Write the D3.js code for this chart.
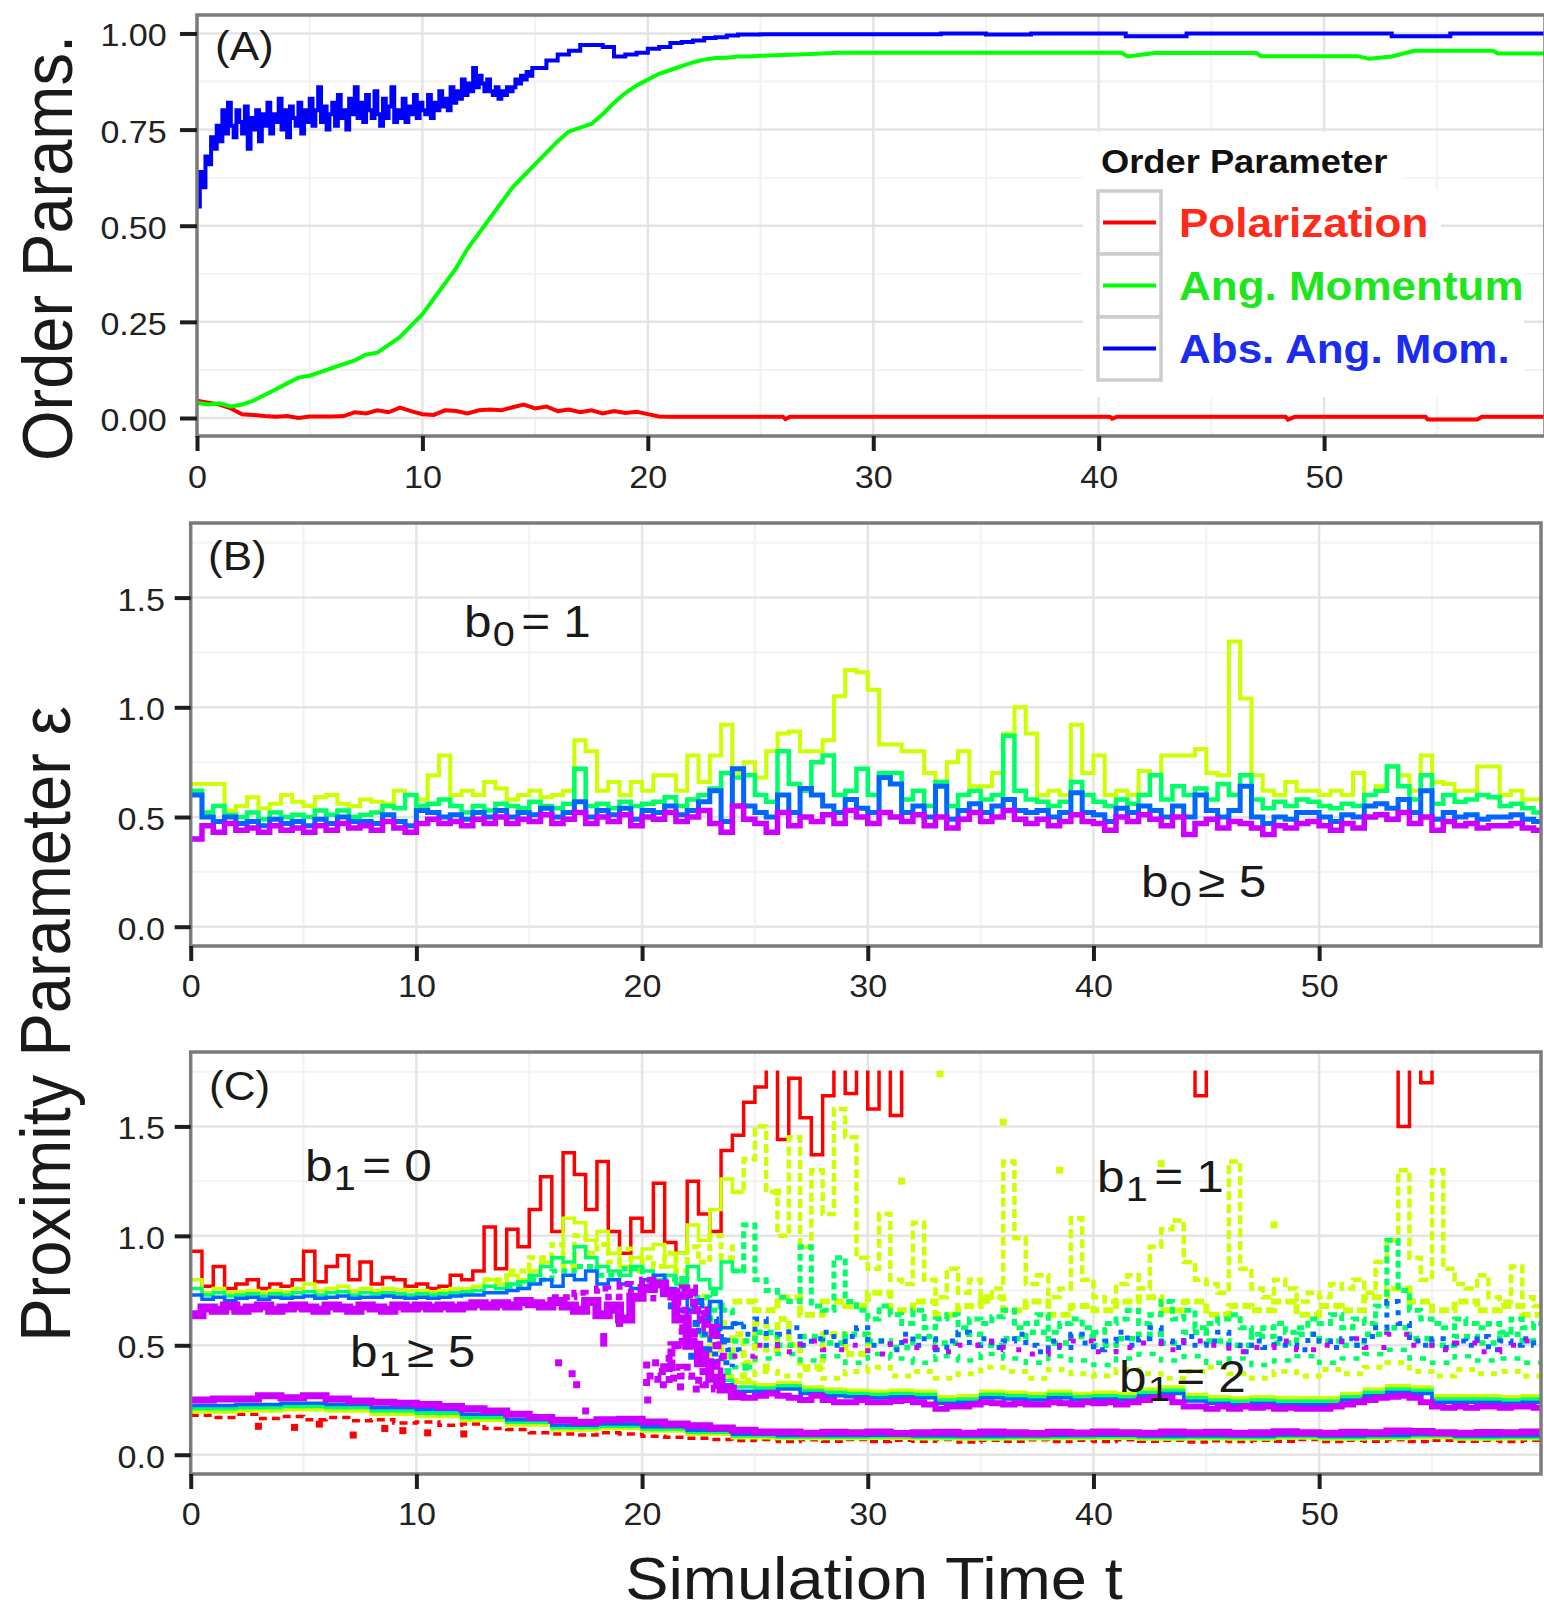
<!DOCTYPE html>
<html><head><meta charset="utf-8">
<script src="https://cdn.jsdelivr.net/npm/d3@7"></script>
<style>html,body{margin:0;padding:0;background:#fff;}svg{display:block;}</style>
</head><body><svg id="c" width="1544" height="1614"></svg>
<script>
// ================= DATA =================
const xTicks = [0,10,20,30,40,50];
const xMinor = [5,15,25,35,45,55];
const yTicksA = [0,0.25,0.5,0.75,1];
const yMinorA = [0.125,0.375,0.625,0.875];
const yTicksBC = [0,0.5,1,1.5];
const yMinorBC = [0.25,0.75,1.25,1.75];
const orderNames = ["Polarization","Ang. Momentum","Abs. Ang. Mom."];
const orderColors = ["#ff0000","#00ff00","#0000ff"];
const orderTextColors = ["#ff2a1a","#1ee61e","#1a2cf0"];
// rainbow(5): red, yellow-green, green, blue, purple
const bettiColors = ["#ff0000","#ccff00","#00ff66","#0066ff","#cc00ff"];

// ---- Panel A (order parameters) ----
const polV = [0.045,0.04,0.035,0.025,0.01,0.008,0.005,0.003,0.005,0.0,0.004,0.004,0.004,0.005,0.015,0.012,0.02,0.015,0.027,0.018,0.01,0.008,0.02,0.018,0.012,0.02,0.022,0.02,0.028,0.035,0.025,0.03,0.018,0.022,0.015,0.02,0.012,0.018,0.013,0.016,0.01,0.004,0.003]; // t=0..21 step .5
const polLate = [[26,0.003],[26.1,-0.003],[26.3,0.003],[40.5,0.003],[40.6,-0.002],[40.8,0.003],[48.3,0.003],[48.4,-0.004],[48.7,0.003],[54.5,0.003],[54.6,-0.004],[56.8,-0.004],[57,0.003],[60,0.003]];
const angMomV = [0.04,0.035,0.038,0.03,0.035,0.045,0.06,0.075,0.09,0.105,0.11,0.12,0.13,0.14,0.15,0.165,0.17,0.19,0.21,0.24,0.27,0.31,0.35,0.39,0.44,0.48,0.52,0.56,0.60,0.63,0.66,0.69,0.72,0.745,0.755,0.765,0.79,0.82,0.845,0.865,0.88,0.895,0.905,0.915,0.925,0.932,0.936,0.937,0.94]; // t=0..24 step .5
const angMomLate = [[25,0.942],[26,0.944],[27,0.946],[28.5,0.95],[41,0.95],[41.3,0.94],[42.5,0.949],[47,0.949],[47.2,0.941],[51.5,0.941],[52,0.934],[53,0.94],[54,0.955],[57.5,0.955],[57.7,0.948],[60,0.948]];
const absAngFine = [0.55,0.64,0.60,0.68,0.66,0.73,0.70,0.76,
 0.72,0.80,0.74,0.82,0.76,0.73,0.80,0.77,
 0.74,0.81,0.70,0.78,0.75,0.80,0.72,0.79,
 0.76,0.82,0.74,0.79,0.77,0.83,0.75,0.80,
 0.73,0.81,0.78,0.76,0.82,0.74,0.80,0.77,
 0.83,0.76,0.80,0.86,0.77,0.81,0.75,0.79,
 0.82,0.76,0.84,0.78,0.80,0.75,0.83,0.79,
 0.86,0.78,0.82,0.77,0.84,0.80,0.78,0.85,
 0.79,0.76,0.83,0.78,0.81,0.86,0.77,0.80,
 0.78,0.83,0.77,0.81,0.79,0.84,0.78,0.82,
 0.80,0.79,0.84,0.78,0.82,0.80,0.85,0.81,
 0.83,0.80,0.86,0.82,0.85,0.83,0.88,0.84,
 0.87,0.85,0.91,0.86,0.89,0.87,0.85,0.88,
 0.85,0.84,0.86,0.83,0.85,0.84,0.86,0.85,
 0.86,0.88,0.87,0.89,0.88,0.90,0.89,0.91]; // t=0..14.875 step .125
const absAngMid = [0.91,0.93,0.945,0.955,0.97,0.97,0.965,0.94,0.945,0.95,0.96,0.965,0.975,0.978,0.982,0.988,0.99,0.995,0.997]; // t=15..24 step .5
const absAngLate = [[25,0.998],[33,1.0],[35,0.997],[37,1.0],[41.2,0.993],[43.9,1.0],[53,0.993],[55.6,1.0],[60,1.0]];

// ---- Panel B (b0 contours), t = 0..59.5 step .5 ----
const bYellow = [0.65,0.65,0.65,0.53,0.55,0.59,0.54,0.56,0.60,0.57,0.55,0.59,0.60,0.56,0.55,0.58,0.57,0.56,0.62,0.60,
 0.58,0.69,0.78,0.60,0.62,0.60,0.66,0.63,0.58,0.60,0.62,0.59,0.60,0.62,0.85,0.80,0.62,0.66,0.60,0.66,
 0.62,0.69,0.69,0.62,0.78,0.66,0.78,0.92,0.70,0.75,0.68,0.80,0.88,0.89,0.80,0.80,0.85,1.05,1.17,1.16,
 1.08,0.83,0.83,0.80,0.80,0.70,0.66,0.75,0.80,0.64,0.64,0.70,0.88,1.00,0.88,0.60,0.62,0.60,0.92,0.70,
 0.78,0.60,0.62,0.60,0.71,0.69,0.78,0.78,0.78,0.81,0.70,0.69,1.30,1.04,0.69,0.62,0.60,0.66,0.62,0.62,
 0.60,0.62,0.60,0.70,0.60,0.64,0.73,0.69,0.62,0.78,0.66,0.65,0.62,0.62,0.73,0.73,0.60,0.62,0.58,0.58];
const bGreen = [0.62,0.52,0.55,0.51,0.50,0.52,0.49,0.52,0.50,0.51,0.50,0.53,0.51,0.53,0.50,0.51,0.52,0.55,0.54,0.60,
 0.55,0.56,0.58,0.55,0.52,0.55,0.53,0.56,0.55,0.54,0.57,0.55,0.54,0.56,0.72,0.55,0.56,0.54,0.57,0.55,
 0.56,0.57,0.59,0.55,0.58,0.60,0.63,0.70,0.68,0.69,0.60,0.57,0.80,0.65,0.62,0.75,0.78,0.60,0.62,0.72,
 0.60,0.70,0.70,0.58,0.62,0.55,0.66,0.55,0.60,0.62,0.58,0.60,0.87,0.62,0.58,0.57,0.55,0.57,0.66,0.60,
 0.57,0.55,0.58,0.56,0.60,0.69,0.58,0.64,0.60,0.63,0.58,0.65,0.60,0.69,0.58,0.54,0.57,0.55,0.58,0.57,
 0.55,0.54,0.56,0.55,0.60,0.62,0.73,0.64,0.58,0.69,0.56,0.60,0.57,0.58,0.60,0.59,0.55,0.56,0.54,0.52];
const bBlue = [0.60,0.50,0.48,0.50,0.47,0.48,0.46,0.49,0.47,0.48,0.46,0.49,0.47,0.50,0.48,0.48,0.47,0.51,0.48,0.46,
 0.53,0.52,0.50,0.51,0.49,0.52,0.50,0.53,0.50,0.52,0.51,0.54,0.50,0.52,0.57,0.50,0.53,0.51,0.54,0.49,
 0.53,0.52,0.55,0.51,0.53,0.57,0.62,0.48,0.72,0.55,0.52,0.50,0.60,0.52,0.63,0.60,0.55,0.52,0.58,0.54,
 0.52,0.68,0.65,0.52,0.55,0.50,0.64,0.49,0.53,0.56,0.52,0.55,0.58,0.53,0.52,0.53,0.50,0.52,0.61,0.52,
 0.51,0.48,0.54,0.52,0.55,0.53,0.50,0.55,0.50,0.60,0.53,0.50,0.53,0.64,0.50,0.47,0.50,0.49,0.52,0.52,
 0.50,0.48,0.51,0.50,0.55,0.56,0.54,0.58,0.52,0.62,0.49,0.52,0.50,0.51,0.49,0.50,0.50,0.51,0.49,0.48];
const bPurple = [0.40,0.46,0.43,0.47,0.44,0.45,0.43,0.46,0.44,0.45,0.43,0.46,0.44,0.47,0.45,0.46,0.44,0.48,0.45,0.43,
 0.47,0.49,0.47,0.48,0.46,0.49,0.47,0.50,0.47,0.49,0.48,0.51,0.47,0.49,0.52,0.47,0.50,0.48,0.51,0.46,
 0.50,0.49,0.52,0.48,0.50,0.53,0.47,0.43,0.55,0.49,0.47,0.43,0.52,0.46,0.50,0.48,0.51,0.47,0.53,0.50,
 0.47,0.52,0.50,0.48,0.51,0.46,0.50,0.45,0.49,0.52,0.48,0.50,0.53,0.49,0.47,0.49,0.46,0.48,0.51,0.48,
 0.47,0.44,0.50,0.48,0.51,0.49,0.46,0.50,0.42,0.47,0.49,0.45,0.48,0.47,0.45,0.42,0.46,0.45,0.47,0.48,
 0.46,0.44,0.47,0.45,0.50,0.51,0.49,0.52,0.47,0.50,0.44,0.48,0.46,0.47,0.45,0.46,0.46,0.47,0.45,0.44];

// ---- Panel C (b1 contours) ----
const cRedTop = [0.93,0.77,0.86,0.76,0.78,0.80,0.76,0.78,0.77,0.80,0.93,0.79,0.86,0.91,0.80,0.88,0.78,0.81,0.80,0.77,
 0.78,0.76,0.77,0.82,0.80,0.84,1.04,0.85,1.03,0.95,1.12,1.27,1.02,1.38,1.28,1.12,1.34,1.02,0.92,1.08,
 1.02,1.24,0.97,0.92,1.25,1.10,1.02,1.39,1.46,1.61,1.68,1.80,1.44,1.72,1.54,1.37,1.64,1.80,1.65,1.80,
 1.58,1.80,1.55,1.80,1.80,1.80,1.80,1.80,1.80,1.80,1.80,1.80,1.80,1.80,1.80,1.80,1.80,1.80,1.80,1.80,
 1.80,1.80,1.80,1.80,1.80,1.80,1.80,1.80,1.80,1.64,1.80,1.80,1.80,1.80,1.80,1.80,1.80,1.80,1.80,1.80,
 1.80,1.80,1.80,1.80,1.80,1.80,1.80,1.50,1.80,1.70,1.80,1.80,1.80,1.80,1.80,1.80,1.80,1.80,1.80,1.80];
const cYellowUp = [0.80,0.74,0.76,0.74,0.745,0.75,0.74,0.75,0.745,0.76,0.78,0.75,0.76,0.77,0.75,0.76,0.75,0.76,0.755,0.75,
 0.75,0.745,0.75,0.76,0.76,0.77,0.80,0.78,0.82,0.80,0.84,0.88,0.90,1.08,1.06,0.98,1.02,0.92,0.86,0.90,
 0.94,0.96,0.86,0.92,1.05,0.98,1.12,1.26,1.20];
const cGreenUp = [0.76,0.73,0.74,0.725,0.73,0.735,0.725,0.735,0.73,0.74,0.745,0.73,0.74,0.745,0.73,0.74,0.735,0.74,0.735,0.73,
 0.735,0.73,0.735,0.74,0.745,0.75,0.77,0.76,0.78,0.79,0.82,0.86,0.90,0.88,0.95,0.90,0.86,0.84,0.82,0.86,
 0.84,0.80,0.82,0.78,0.86,0.80,0.76,0.88,0.84];
const cBlueUp = [0.73,0.71,0.72,0.705,0.715,0.72,0.71,0.72,0.715,0.72,0.725,0.715,0.72,0.725,0.715,0.72,0.72,0.725,0.72,0.715,
 0.72,0.715,0.72,0.725,0.73,0.73,0.74,0.74,0.75,0.76,0.78,0.80,0.77,0.82,0.80,0.84,0.78,0.80,0.78,0.76,
 0.80,0.82,0.76,0.72,0.66,0.62,0.70,0.58,0.60];
const cPurpleUp = [0.64,0.67,0.66,0.68,0.66,0.67,0.68,0.66,0.67,0.68,0.67,0.66,0.68,0.67,0.66,0.68,0.67,0.66,0.68,0.67,
 0.68,0.67,0.68,0.67,0.68,0.69,0.68,0.69,0.68,0.70,0.69,0.68,0.70,0.68,0.66,0.70,0.64,0.68,0.62,0.72,
 0.76,0.78,0.74,0.62,0.50,0.42,0.35,0.30,0.27];
// transition region t 13..24
const cYellowMidEarly = [[13,0.80],[14,0.84],[15,0.90],[16,0.96],[16.5,0.86],[17,1.00],[17.5,0.92],[18,0.96],[18.5,0.88],[19,0.94],[19.5,0.84],[20,0.90],[20.5,0.86],[21,0.92],[21.5,0.84],[22,0.95],[22.5,0.88],[23,1.00],[23.5,0.90],[24,0.96]];
const cYellowTrans = [[22.5,0.62],[23,0.50],[23.5,0.45],[24,0.55],[24.5,0.42],[25,0.60],[25.5,0.48],[26,0.62],[26.5,0.50],[27,0.40],[28,0.55],[29,0.46],[30,0.58]];
const cGreenMidEarly = [[14,0.77],[15,0.80],[16,0.84],[17,0.86],[18,0.82],[19,0.85],[20,0.78],[21,0.80],[22,0.72],[23,0.66],[24,0.62]];
const cBlueTrans1 = [[21.5,0.66],[22,0.60],[22.5,0.55],[23,0.46],[23.5,0.42],[24,0.40]];
const cBlueTrans2 = [[21.8,0.74],[22.3,0.68],[22.8,0.62],[23.3,0.54],[23.8,0.48],[24.3,0.46]];
const cPurpleBroad = [[16,0.72],[17,0.74],[17.5,0.70],[18,0.76],[18.5,0.72],[19,0.78],[19.5,0.74],[20,0.80],[20.5,0.70]];
const cPurpleBlockA = [[20.8,0.74],[21.3,0.70],[21.8,0.76],[22.3,0.66],[22.8,0.58],[23.3,0.50],[23.6,0.50]];
const cPurpleBlockB = [[20.8,0.40],[21.3,0.50],[21.8,0.56],[22.3,0.48],[22.8,0.42],[23.3,0.38],[23.6,0.38]];
const cPurpleBlockC = [[20.2,0.36],[20.7,0.32],[21.2,0.40],[21.7,0.36],[22.2,0.34],[22.7,0.32],[23.2,0.30],[23.6,0.30]];
const cPurpleB2 = [0.27,0.26,0.27,0.28,0.27,0.26,0.25,0.27,0.25,0.24,0.24,0.25,0.24,0.24,0.245,0.25,0.24,0.23,0.21,0.22,
 0.22,0.23,0.24,0.235,0.23,0.235,0.23,0.23,0.24,0.235,0.23,0.24,0.235,0.24,0.23,0.24,0.25,0.26,0.26,0.24,
 0.22,0.22,0.21,0.22,0.21,0.22,0.215,0.22,0.21,0.215,0.21,0.21,0.21,0.22,0.23,0.24,0.25,0.26,0.265,0.27,
 0.26,0.24,0.22,0.215,0.22,0.215,0.22,0.22,0.215,0.22,0.22,0.215];
const cBlueB2 = [[23.5,0.32],[24,0.29],[25,0.29],[26,0.30],[27,0.28],[28,0.27],[29,0.265],[30,0.26],[31,0.265],[32,0.26],[33,0.235],[34,0.24],[35,0.26],[36,0.255],[37,0.25],[38,0.26],[39,0.25],[40,0.255],[41,0.25],[42,0.27],[43,0.28],[44,0.245],[45,0.235],[46,0.23],[47,0.235],[48,0.23],[49,0.23],[50,0.23],[51,0.25],[52,0.27],[53,0.285],[54,0.28],[55,0.24],[56,0.24],[57,0.24],[58,0.235],[59,0.24],[60,0.24]];
const cGreenB2 = [[23.5,0.34],[24,0.31],[25,0.305],[26,0.315],[27,0.295],[28,0.285],[29,0.28],[30,0.275],[31,0.28],[32,0.275],[33,0.25],[34,0.255],[35,0.275],[36,0.27],[37,0.265],[38,0.275],[39,0.265],[40,0.27],[41,0.265],[42,0.285],[43,0.295],[44,0.26],[45,0.25],[46,0.245],[47,0.25],[48,0.245],[49,0.245],[50,0.245],[51,0.265],[52,0.285],[53,0.30],[54,0.295],[55,0.255],[56,0.255],[57,0.255],[58,0.25],[59,0.255],[60,0.255]];
const cYellowB2 = [[23.5,0.36],[24,0.33],[25,0.32],[26,0.33],[27,0.31],[28,0.30],[29,0.295],[30,0.29],[31,0.295],[32,0.29],[33,0.265],[34,0.27],[35,0.29],[36,0.285],[37,0.28],[38,0.29],[39,0.28],[40,0.285],[41,0.28],[42,0.30],[43,0.31],[44,0.275],[45,0.265],[46,0.26],[47,0.265],[48,0.26],[49,0.26],[50,0.26],[51,0.28],[52,0.30],[53,0.315],[54,0.31],[55,0.27],[56,0.27],[57,0.27],[58,0.265],[59,0.27],[60,0.27]];
const cYellowCloud = [1.20,1.35,1.50,1.20,1.00,1.45,0.95,1.30,1.10,1.58,1.45,0.90,0.85,1.10,0.80,0.78,1.06,0.80,0.72,0.85,
 0.74,0.80,0.70,0.76,1.34,0.99,0.78,0.82,0.72,0.76,1.08,0.80,0.72,0.70,0.78,0.82,0.76,0.95,1.03,1.07,
 0.88,0.80,0.78,0.74,1.34,0.85,0.76,0.72,0.80,0.76,0.70,0.74,0.72,0.78,0.76,0.80,0.74,0.88,0.98,1.30,
 0.90,0.80,1.30,0.85,0.78,0.76,0.82,0.72,0.70,0.86,0.72,0.68];
const cYellowCloudMid = [[24,0.70],[25,0.66],[26,0.72],[27,0.64],[28,0.70],[29,0.68],[30,0.74],[31,0.66],[32,0.70],[33,0.64],[34,0.68],[35,0.72],[36,0.66],[37,0.70],[38,0.64],[39,0.68],[40,0.66],[41,0.70],[42,0.72],[43,0.66],[44,0.70],[45,0.64],[46,0.68],[47,0.66],[48,0.70],[49,0.64],[50,0.68],[51,0.66],[52,0.72],[53,0.76],[54,0.70],[55,0.66],[56,0.70],[57,0.66],[58,0.68],[59,0.64],[60,0.66]];
const cGreenCloud = [0.84,1.05,0.80,0.75,0.72,0.70,0.95,0.68,0.66,0.90,0.70,0.66,0.62,0.68,0.64,0.60,0.66,0.58,0.62,0.64,
 0.58,0.62,0.60,0.63,0.66,0.58,0.60,0.64,0.56,0.60,0.62,0.58,0.56,0.60,0.62,0.66,0.60,0.64,0.70,0.62,
 0.66,0.58,0.60,0.62,0.64,0.58,0.55,0.58,0.60,0.56,0.58,0.62,0.60,0.64,0.58,0.62,0.60,0.68,0.98,0.75,
 0.66,0.62,0.60,0.58,0.62,0.60,0.58,0.60,0.56,0.62,0.58,0.60];
const cGreenCloudMid = [[24,0.52],[25,0.56],[26,0.50],[27,0.54],[28,0.51],[29,0.55],[30,0.52],[31,0.49],[32,0.54],[33,0.51],[34,0.55],[35,0.50],[36,0.53],[37,0.56],[38,0.51],[39,0.54],[40,0.50],[41,0.53],[42,0.55],[43,0.51],[44,0.56],[45,0.52],[46,0.50],[47,0.54],[48,0.51],[49,0.55],[50,0.52],[51,0.50],[52,0.55],[53,0.58],[54,0.53],[55,0.50],[56,0.54],[57,0.51],[58,0.55],[59,0.52],[60,0.53]];
const cBlueCloud = [0.60,0.55,0.62,0.50,0.55,0.58,0.50,0.53,0.56,0.50,0.54,0.58,0.50,0.52,0.48,0.55,0.50,0.53,0.48,0.52,
 0.56,0.50,0.53,0.49,0.52,0.55,0.50,0.47,0.52,0.49,0.55,0.51,0.48,0.52,0.56,0.50,0.53,0.58,0.52,0.49,
 0.54,0.50,0.52,0.56,0.50,0.47,0.52,0.49,0.53,0.50,0.48,0.55,0.52,0.49,0.53,0.50,0.54,0.58,0.70,0.60,
 0.52,0.50,0.53,0.49,0.52,0.50,0.54,0.48,0.52,0.50,0.53,0.50];
const cPurpleCloud = [[24,0.45],[25,0.50],[26,0.47],[27,0.52],[28,0.48],[29,0.50],[30,0.46],[31,0.52],[32,0.49],[33,0.47],[34,0.50],[35,0.52],[36,0.48],[37,0.46],[38,0.50],[39,0.52],[40,0.47],[41,0.49],[42,0.51],[43,0.48],[44,0.52],[45,0.50],[46,0.47],[47,0.49],[48,0.52],[49,0.48],[50,0.50],[51,0.53],[52,0.49],[53,0.55],[54,0.50],[55,0.48],[56,0.51],[57,0.47],[58,0.50],[59,0.52],[60,0.50]];
const cGreenCloudLow = [[24,0.40],[25,0.44],[26,0.46],[27,0.43],[28,0.45],[29,0.42],[30,0.46],[31,0.44],[32,0.42],[33,0.45],[34,0.43],[35,0.46],[36,0.44],[37,0.42],[38,0.45],[39,0.43],[40,0.41],[41,0.44],[42,0.46],[43,0.43],[44,0.45],[45,0.42],[46,0.44],[47,0.41],[48,0.43],[49,0.45],[50,0.42],[51,0.44],[52,0.46],[53,0.48],[54,0.44],[55,0.42],[56,0.45],[57,0.43],[58,0.44],[59,0.42],[60,0.44]];
const cYellowCloudLow = [[24,0.34],[25,0.38],[26,0.36],[27,0.39],[28,0.35],[29,0.38],[30,0.40],[31,0.36],[32,0.38],[33,0.35],[34,0.37],[35,0.40],[36,0.38],[37,0.35],[38,0.39],[39,0.37],[40,0.36],[41,0.39],[42,0.37],[43,0.35],[44,0.38],[45,0.40],[46,0.37],[47,0.35],[48,0.38],[49,0.36],[50,0.39],[51,0.37],[52,0.40],[53,0.42],[54,0.38],[55,0.36],[56,0.39],[57,0.37],[58,0.38],[59,0.36],[60,0.38]];
const cPurpleLow = [[0,0.25],[1,0.255],[2,0.255],[3,0.27],[4,0.26],[5,0.27],[6,0.255],[7,0.245],[8,0.24],[9,0.235],[10,0.23],[11,0.22],[12,0.21],[13,0.20],[14,0.185],[15,0.17],[16,0.158],[17,0.148],[18,0.16],[19,0.162],[20,0.15],[21,0.14],[22,0.132],[23,0.122],[24,0.112],[25,0.104],[26,0.104],[27,0.098],[28,0.103],[29,0.10],[30,0.104],[31,0.097],[32,0.101],[33,0.103],[34,0.098],[35,0.104],[36,0.10],[37,0.097],[38,0.103],[39,0.099],[40,0.104],[41,0.10],[42,0.098],[43,0.104],[44,0.10],[45,0.103],[46,0.098],[47,0.101],[48,0.105],[49,0.10],[50,0.098],[51,0.103],[52,0.101],[53,0.108],[54,0.106],[55,0.10],[56,0.098],[57,0.102],[58,0.10],[59,0.104],[60,0.10]];
const cBlueLow = [[0,0.225],[2,0.23],[4,0.235],[6,0.23],[8,0.215],[10,0.205],[12,0.185],[14,0.16],[16,0.135],[18,0.14],[20,0.128],[22,0.112],[24,0.094],[26,0.088],[28,0.088],[30,0.089],[32,0.087],[34,0.086],[36,0.087],[38,0.088],[40,0.089],[42,0.086],[44,0.087],[46,0.086],[48,0.09],[50,0.086],[52,0.088],[54,0.093],[56,0.086],[58,0.087],[60,0.087]];
const cGreenLow = [[0,0.21],[2,0.215],[4,0.22],[6,0.215],[8,0.20],[10,0.19],[12,0.17],[14,0.148],[16,0.124],[18,0.13],[20,0.118],[22,0.103],[24,0.086],[26,0.081],[28,0.081],[30,0.082],[32,0.08],[34,0.079],[36,0.08],[38,0.081],[40,0.082],[42,0.079],[44,0.08],[46,0.079],[48,0.083],[50,0.079],[52,0.081],[54,0.086],[56,0.079],[58,0.08],[60,0.08]];
const cYellowLow = [[0,0.195],[2,0.20],[4,0.205],[6,0.20],[8,0.185],[10,0.175],[12,0.156],[14,0.136],[16,0.113],[18,0.12],[20,0.108],[22,0.094],[24,0.078],[26,0.074],[28,0.074],[30,0.075],[32,0.073],[34,0.072],[36,0.073],[38,0.074],[40,0.075],[42,0.072],[44,0.073],[46,0.072],[48,0.076],[50,0.072],[52,0.074],[54,0.079],[56,0.072],[58,0.073],[60,0.073]];
const cRedLow = [[0,0.18],[1,0.17],[2,0.185],[3,0.165],[4,0.175],[5,0.16],[6,0.17],[7,0.155],[8,0.16],[9,0.145],[10,0.15],[11,0.135],[12,0.14],[13,0.12],[14,0.115],[15,0.10],[16,0.095],[17,0.09],[18,0.10],[19,0.095],[20,0.085],[21,0.08],[22,0.075],[23,0.07],[24,0.065],[25,0.07],[26,0.06],[27,0.068],[28,0.062],[29,0.07],[30,0.06],[31,0.066],[32,0.062],[33,0.07],[34,0.058],[35,0.066],[36,0.062],[37,0.068],[38,0.06],[39,0.066],[40,0.06],[41,0.068],[42,0.062],[43,0.066],[44,0.058],[45,0.064],[46,0.06],[47,0.066],[48,0.062],[49,0.07],[50,0.06],[51,0.066],[52,0.062],[53,0.068],[54,0.06],[55,0.066],[56,0.062],[57,0.066],[58,0.06],[59,0.066],[60,0.062]];
const cRedTiles = [[3.0,0.13],[4.6,0.125],[5.7,0.14],[7.2,0.09],[8.6,0.12],[9.4,0.11],[10.5,0.10],[12.1,0.095]];
const cYellowTiles = [[23.0,0.46],[23.4,0.33],[24.5,0.36],[25.5,0.40],[33.2,1.74],[36.0,1.52],[26.0,1.20],[31.5,1.25],[38.5,1.30],[48,1.05],[43.0,1.33],[22.4,0.56],[22.8,0.72],[23.6,0.60]];
const cGreenTiles = [[22.2,0.66],[23.0,0.62],[23.5,0.68],[24.0,0.45],[23.8,0.38],[22.7,0.55],[24.6,0.40],[22.5,0.48],[23.2,0.74],[21.8,0.80]];
const cBlueTiles = [[21.6,0.62],[22.0,0.55],[22.4,0.60],[22.8,0.48],[23.2,0.42],[23.6,0.52],[22.6,0.70],[21.9,0.76],[23.0,0.36],[22.2,0.45],[23.4,0.58],[21.3,0.68]];
const cPurpleTiles = [[16.3,0.42],[16.9,0.37],[17.1,0.32],[17.5,0.20],[18.3,0.54],[18.3,0.51],[20.2,0.41],[20.2,0.33],[20.25,0.25],[20.6,0.42],[20.9,0.38],[21.2,0.44],[21.4,0.35],[21.6,0.50],[21.8,0.58],[21.9,0.66],[22.1,0.73],[22.3,0.52],[22.5,0.45],[22.7,0.38],[22.9,0.60],[23.1,0.55],[23.3,0.33],[22.0,0.40],[21.7,0.31],[19.4,0.62],[19.0,0.60],[18.8,0.66],[22.4,0.30],[23.6,0.45],[22.6,0.62],[21.5,0.70],[21.0,0.74]];

// ================= DRAWING =================
const FONT = '"Liberation Sans", Arial, Helvetica, sans-serif';
const svg = d3.select('#c');
svg.append('rect').attr('width',1544).attr('height',1614).attr('fill','#fff');
const defs = svg.append('defs');

function stepPairs(t0, dt, vals){
  const out = vals.map((v,i)=>[t0+i*dt, v]);
  out.push([t0+vals.length*dt, vals[vals.length-1]]);
  return out;
}

function makePanel(id, p){
  const x = d3.scaleLinear().domain(p.xdom).range([p.left, p.right]);
  const y = d3.scaleLinear().domain(p.ydom).range([p.bottom, p.top]);
  defs.append('clipPath').attr('id', id).append('rect')
    .attr('x',p.left).attr('y',p.top).attr('width',p.right-p.left).attr('height',p.bottom-p.top);
  const grid = svg.append('g').attr('clip-path',`url(#${id})`);
  p.yMinor.forEach(v=>grid.append('line').attr('x1',p.left).attr('x2',p.right).attr('y1',y(v)).attr('y2',y(v)).attr('stroke','#f2f2f2').attr('stroke-width',2));
  xMinor.forEach(v=>grid.append('line').attr('x1',x(v)).attr('x2',x(v)).attr('y1',p.top).attr('y2',p.bottom).attr('stroke','#f2f2f2').attr('stroke-width',2));
  p.yTicks.forEach(v=>grid.append('line').attr('x1',p.left).attr('x2',p.right).attr('y1',y(v)).attr('y2',y(v)).attr('stroke','#e4e4e4').attr('stroke-width',2.5));
  xTicks.forEach(v=>grid.append('line').attr('x1',x(v)).attr('x2',x(v)).attr('y1',p.top).attr('y2',p.bottom).attr('stroke','#e4e4e4').attr('stroke-width',2.5));
  const data = svg.append('g').attr('clip-path',`url(#${id})`);
  return {x,y,data,p};
}

function finishPanel(P){
  const {x,y,p} = P;
  svg.append('rect').attr('x',p.left).attr('y',p.top).attr('width',p.right-p.left).attr('height',p.bottom-p.top)
    .attr('fill','none').attr('stroke','#7b7b7b').attr('stroke-width',3.5);
  const gl = svg.append('g').attr('transform',`translate(${p.left},0)`)
    .call(d3.axisLeft(y).tickValues(p.yTicks).tickFormat(d3.format(p.fmt)).tickSize(p.tick).tickPadding(p.pad));
  const gb = svg.append('g').attr('transform',`translate(0,${p.bottom})`)
    .call(d3.axisBottom(x).tickValues(xTicks).tickFormat(d3.format('d')).tickSize(15).tickPadding(p.bpad));
  [gl,gb].forEach(g=>{
    g.select('.domain').remove();
    g.attr('font-family',FONT).attr('font-size',31);
    g.selectAll('line').attr('stroke','#1e1e1e').attr('stroke-width',4);
    g.selectAll('text').attr('fill','#222').attr('transform','scale(1.1,1)');
  });
  gl.selectAll('text').attr('dy','0.4em');
}

function drawLine(P, pairs, color, width, dash, curve){
  const line = d3.line().x(d=>P.x(d[0])).y(d=>P.y(d[1])).curve(curve||d3.curveStepAfter).defined(d=>d[1]!=null);
  const path = P.data.append('path').datum(pairs).attr('d',line).attr('fill','none')
    .attr('stroke',color).attr('stroke-width',width).attr('stroke-linejoin','miter');
  if(dash) path.attr('stroke-dasharray',dash);
}
function drawTiles(P, tiles, color){
  P.data.selectAll(null).data(tiles).enter().append('rect')
    .attr('x',d=>P.x(d[0])-3.5).attr('y',d=>P.y(d[1])-3.5).attr('width',7).attr('height',7).attr('fill',color);
}
function sText(x, y, str, o){
  const g = svg.append('g').attr('transform',`translate(${x},${y}) scale(${o.sx||1.1},1)${o.rot?` rotate(${o.rot})`:''}`);
  return g.append('text').attr('font-family',FONT).attr('font-size',o.size).attr('fill',o.fill||'#1a1a1a')
    .attr('text-anchor',o.anchor||'start').attr('font-weight',o.weight||'normal').text(str);
}
function bettiLabel(x, y, sub, rel, num){
  const g = svg.append('g').attr('transform',`translate(${x},${y}) scale(1.1,1)`);
  const t = g.append('text').attr('font-family',FONT).attr('font-size',45).attr('fill','#1a1a1a');
  t.append('tspan').text('b');
  t.append('tspan').attr('font-size',36).attr('dy',9).attr('dx',1).text(sub);
  t.append('tspan').attr('dy',-9).attr('dx',6).text(rel);
  t.append('tspan').attr('dx',12).text(num);
}

// ---------- Panel A ----------
const A = makePanel('clipA',{left:197,right:1545,top:15,bottom:436,xdom:[0,59.8],ydom:[-0.0468,1.048],
  yTicks:yTicksA,yMinor:yMinorA,fmt:'.2f',tick:17,pad:10.5,bpad:15});
drawLine(A, stepPairs(0,0.5,polV).concat(polLate), orderColors[0], 4, null, d3.curveLinear);
drawLine(A, stepPairs(0,0.5,angMomV).concat(angMomLate), orderColors[1], 4, null, d3.curveLinear);
drawLine(A, stepPairs(0,0.125,absAngFine).concat(stepPairs(15,0.5,absAngMid)).concat(absAngLate), orderColors[2], 4);
finishPanel(A);

// legend
svg.append('rect').attr('x',1083).attr('y',132).attr('width',320).attr('height',58).attr('fill','#fff');
svg.append('rect').attr('x',1083).attr('y',190).attr('width',358).attr('height',63).attr('fill','#fff');
svg.append('rect').attr('x',1083).attr('y',253).attr('width',441).attr('height',144).attr('fill','#fff');
sText(1101,173,'Order Parameter',{size:33,weight:'bold',fill:'#111'});
orderNames.forEach((n,i)=>{
  const y0 = 191 + 63*i;
  svg.append('rect').attr('x',1098).attr('y',y0).attr('width',63).attr('height',63)
    .attr('fill','#fff').attr('stroke','#cccccc').attr('stroke-width',3.5);
  svg.append('line').attr('x1',1103).attr('x2',1156).attr('y1',y0+31.5).attr('y2',y0+31.5)
    .attr('stroke',orderColors[i]).attr('stroke-width',4);
  sText(1179, y0+46, n, {size:40, weight:'bold', fill:orderTextColors[i]});
});

// ---------- Panel B ----------
const B = makePanel('clipB',{left:190.7,right:1541,top:523,bottom:946,xdom:[0,59.83],ydom:[-0.088,1.84],
  yTicks:yTicksBC,yMinor:yMinorBC,fmt:'.1f',tick:16,pad:7.5,bpad:14});
drawLine(B, stepPairs(0,0.5,bYellow), bettiColors[1], 4);
drawLine(B, stepPairs(0,0.5,bGreen), bettiColors[2], 4.5);
drawLine(B, stepPairs(0,0.5,bBlue), bettiColors[3], 5);
drawLine(B, stepPairs(0,0.5,bPurple), bettiColors[4], 5.5);
finishPanel(B);

// ---------- Panel C ----------
const C = makePanel('clipC',{left:190.7,right:1541,top:1052,bottom:1474,xdom:[0,59.83],ydom:[-0.088,1.84],
  yTicks:yTicksBC,yMinor:yMinorBC,fmt:'.1f',tick:16,pad:7.5,bpad:14});
defs.append('clipPath').attr('id','clipC2').append('rect')
  .attr('x',190.7).attr('y',C.y(1.755)).attr('width',1541-190.7).attr('height',1474-C.y(1.755));
C.data.attr('clip-path','url(#clipC2)');
// red
drawLine(C, stepPairs(0,0.5,cRedTop), bettiColors[0], 3.5);
drawLine(C, cRedLow, bettiColors[0], 3.5, '8,5');
drawTiles(C, cRedTiles, bettiColors[0]);
// yellow
drawLine(C, stepPairs(0,0.5,cYellowUp), bettiColors[1], 3.5);
drawLine(C, cYellowMidEarly, bettiColors[1], 5, '7,4');
drawLine(C, cYellowTrans, bettiColors[1], 6, '8,4');
drawLine(C, stepPairs(24,0.5,cYellowCloud), bettiColors[1], 4.5, '9,4');
drawLine(C, cYellowCloudMid, bettiColors[1], 6, '10,4');
drawLine(C, cYellowCloudLow, bettiColors[1], 5, '6,7');
drawLine(C, cYellowB2, bettiColors[1], 3.5);
drawLine(C, cYellowLow, bettiColors[1], 3.5);
drawTiles(C, cYellowTiles, bettiColors[1]);
// green
drawLine(C, stepPairs(0,0.5,cGreenUp), bettiColors[2], 3.5);
drawLine(C, cGreenMidEarly, bettiColors[2], 5, '6,4');
drawLine(C, stepPairs(24,0.5,cGreenCloud), bettiColors[2], 5, '7,4');
drawLine(C, cGreenCloudMid, bettiColors[2], 5.5, '6,5');
drawLine(C, cGreenCloudLow, bettiColors[2], 4.5, '6,8');
drawLine(C, cGreenB2, bettiColors[2], 3.5);
drawLine(C, cGreenLow, bettiColors[2], 3.5);
drawTiles(C, cGreenTiles, bettiColors[2]);
// blue
drawLine(C, stepPairs(0,0.5,cBlueUp), bettiColors[3], 3.5);
drawLine(C, cBlueTrans1, bettiColors[3], 5, '6,4');
drawLine(C, cBlueTrans2, bettiColors[3], 5, '5,5');
drawLine(C, stepPairs(24,0.5,cBlueCloud), bettiColors[3], 5, '5,7');
drawLine(C, cBlueB2, bettiColors[3], 3.5);
drawLine(C, cBlueLow, bettiColors[3], 3.5);
drawTiles(C, cBlueTiles, bettiColors[3]);
// purple
drawLine(C, stepPairs(0,0.5,cPurpleUp), bettiColors[4], 9);
drawLine(C, cPurpleBroad, bettiColors[4], 6, '7,4');
drawLine(C, cPurpleBlockA, bettiColors[4], 8, '8,3');
drawLine(C, cPurpleBlockB, bettiColors[4], 8, '8,3');
drawLine(C, cPurpleBlockC, bettiColors[4], 7, '7,4');
drawLine(C, stepPairs(24,0.5,cPurpleB2), bettiColors[4], 6);
drawLine(C, cPurpleLow, bettiColors[4], 7);
drawLine(C, cPurpleCloud, bettiColors[4], 5, '5,13');
drawTiles(C, cPurpleTiles, bettiColors[4]);
finishPanel(C);

// ---------- Texts ----------
sText(215,60,'(A)',{size:40});
sText(208,570,'(B)',{size:40});
sText(209,1100,'(C)',{size:40});
bettiLabel(464,637,'0','=','1');
bettiLabel(1141,897,'0','\u2265','5');
bettiLabel(305,1181,'1','=','0');
bettiLabel(350,1367,'1','\u2265','5');
bettiLabel(1097,1192,'1','=','1');
bettiLabel(1119,1392,'1','=','2');
sText(71.5,248,'Order Params.',{size:65,anchor:'middle',rot:-90,sx:1.07});
sText(70,1024,'Proximity Parameter \u03b5',{size:65,anchor:'middle',rot:-90,sx:1.07});
sText(874,1599,'Simulation Time t',{size:59,anchor:'middle'});
</script></body></html>
